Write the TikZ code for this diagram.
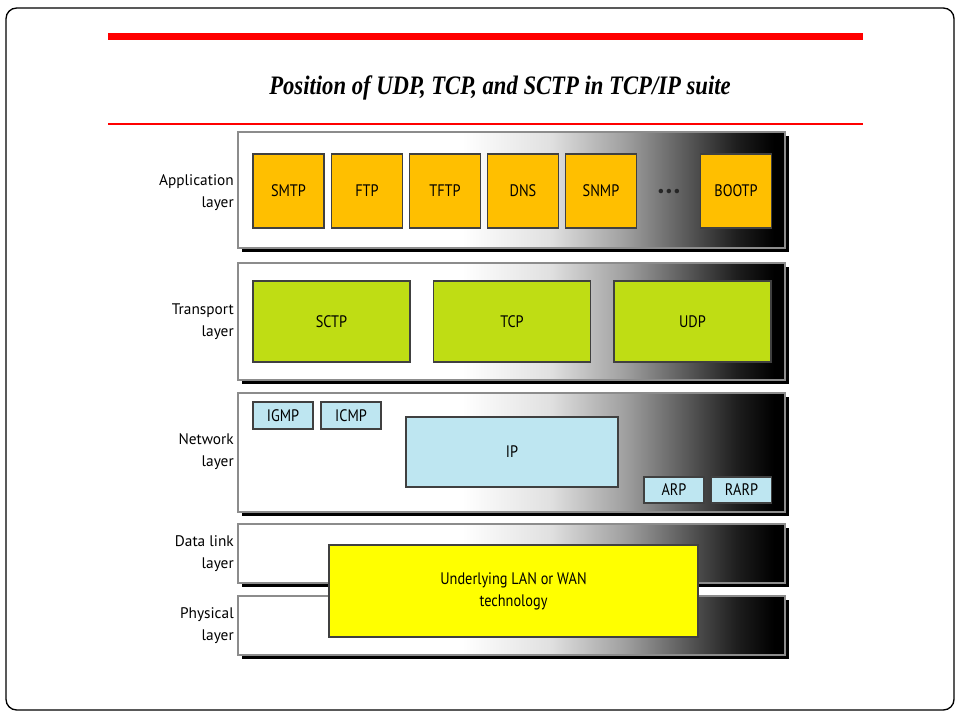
\documentclass[tikz,border=0pt]{standalone}
\usepackage{fontspec}
\setmainfont{PT Sans}
\newfontfamily\boxfont[FakeStretch=0.86]{PT Sans}
\newfontfamily\titlefont[FakeStretch=0.85]{Liberation Serif}
\pgfdeclarehorizontalshading{bandshade}{100bp}{color(0bp)=(white); color(45.5bp)=(white); color(53.5bp)=(black!12); color(60.5bp)=(black!38); color(66bp)=(black!65); color(70.5bp)=(black!88); color(74bp)=(black); color(100bp)=(black)}
\def\px{0.75pt}
\tikzset{
  band/.style={draw=black!45, line width=0.8pt, shading=bandshade, minimum width=547*\px, inner sep=0pt},
  btext/.style={font=\boxfont\fontsize{12.5}{14}\selectfont, text=black},
  appbox/.style={btext, draw=black!75, line width=0.8pt, fill=appcol, minimum width=71*\px, minimum height=74*\px, inner sep=0pt},
  tbox/.style={btext, draw=black!75, line width=0.8pt, fill=tcol, minimum width=157*\px, minimum height=81*\px, inner sep=0pt},
  nbox/.style={btext, draw=black!75, line width=0.8pt, fill=ncol, inner sep=0pt},
  lbl/.style={anchor=east, align=right, text=black, font=\fontsize{11.5}{16.5}\selectfont, inner sep=0pt},
}
\definecolor{appcol}{HTML}{FFBF00}
\definecolor{tcol}{HTML}{BFDD14}
\definecolor{ncol}{HTML}{BEE6F1}
\definecolor{ucol}{HTML}{FFFF00}
\definecolor{redline}{HTML}{FF0000}
\begin{document}
\begin{tikzpicture}[x=0.75pt, y=-0.75pt]
\useasboundingbox (0,0) rectangle (960,720);
% slide frame
\draw[black, line width=1pt, rounded corners=8pt] (6,8) rectangle (954,710);
% red rules
\fill[redline] (108,33) rectangle (863,40);
\fill[redline] (108,123.3) rectangle (863,125.3);
% title
\node (title) at (500,88) {\titlefont\fontsize{20}{22}\selectfont\bfseries\itshape Position of UDP, TCP, and SCTP in TCP/IP suite};
% band shadows
\foreach \ya/\yb in {132/248, 263/380, 393/512, 524/583, 596/655}{
  \fill[black] (242,\ya+4) rectangle (789,\yb+4);
}
% bands
\node[band, minimum height=116*\px] (app) at (511.5,190) {};
\node[band, minimum height=117*\px] (trans) at (511.5,321.5) {};
\node[band, minimum height=119*\px] (net) at (511.5,452.5) {};
\node[band, minimum height=59*\px] (dl) at (511.5,553.5) {};
\node[band, minimum height=59*\px] (phy) at (511.5,625.5) {};
% labels
\node[lbl] (lapp) at (234,193) {Application\\layer};
\node[lbl] (ltrans) at (234,322) {Transport\\layer};
\node[lbl] (lnet) at (234,452) {Network\\layer};
\node[lbl] (ldl) at (234,554) {Data link\\layer};
\node[lbl] (lphy) at (234,626) {Physical\\layer};
% application boxes
\node[appbox] (smtp) at (288.5,191) {SMTP};
\node[appbox] (ftp) at (367,191) {FTP};
\node[appbox] (tftp) at (445,191) {TFTP};
\node[appbox] (dns) at (523,191) {DNS};
\node[appbox] (snmp) at (601,191) {SNMP};
\node[font=\fontsize{12}{12}\selectfont, text=black!85, inner sep=0pt] (dots) at (669,193) {•\kern0.5pt•\kern0.5pt•};
\node[appbox] (bootp) at (736,191) {BOOTP};
% transport boxes
\node[tbox] (sctp) at (331.5,321.5) {SCTP};
\node[tbox] (tcp) at (512,321.5) {TCP};
\node[tbox] (udp) at (692.5,321.5) {UDP};
% network boxes
\node[nbox, minimum width=60*\px, minimum height=27*\px] (igmp) at (283,415.5) {IGMP};
\node[nbox, minimum width=60*\px, minimum height=27*\px] (icmp) at (351,415.5) {ICMP};
\node[nbox, minimum width=212*\px, minimum height=70*\px] (ip) at (512,452) {IP};
\node[nbox, minimum width=60*\px, minimum height=26*\px] (arp) at (674,490) {ARP};
\node[nbox, minimum width=60*\px, minimum height=26*\px] (rarp) at (741.5,490) {RARP};
% underlying
\node[btext, draw=black!75, line width=0.8pt, fill=ucol, minimum width=369*\px, minimum height=92*\px, inner sep=0pt, align=center, font=\boxfont\fontsize{12.5}{16.5}\selectfont] (lan) at (513.5,591) {Underlying LAN or WAN\\technology};
\end{tikzpicture}
\end{document}
